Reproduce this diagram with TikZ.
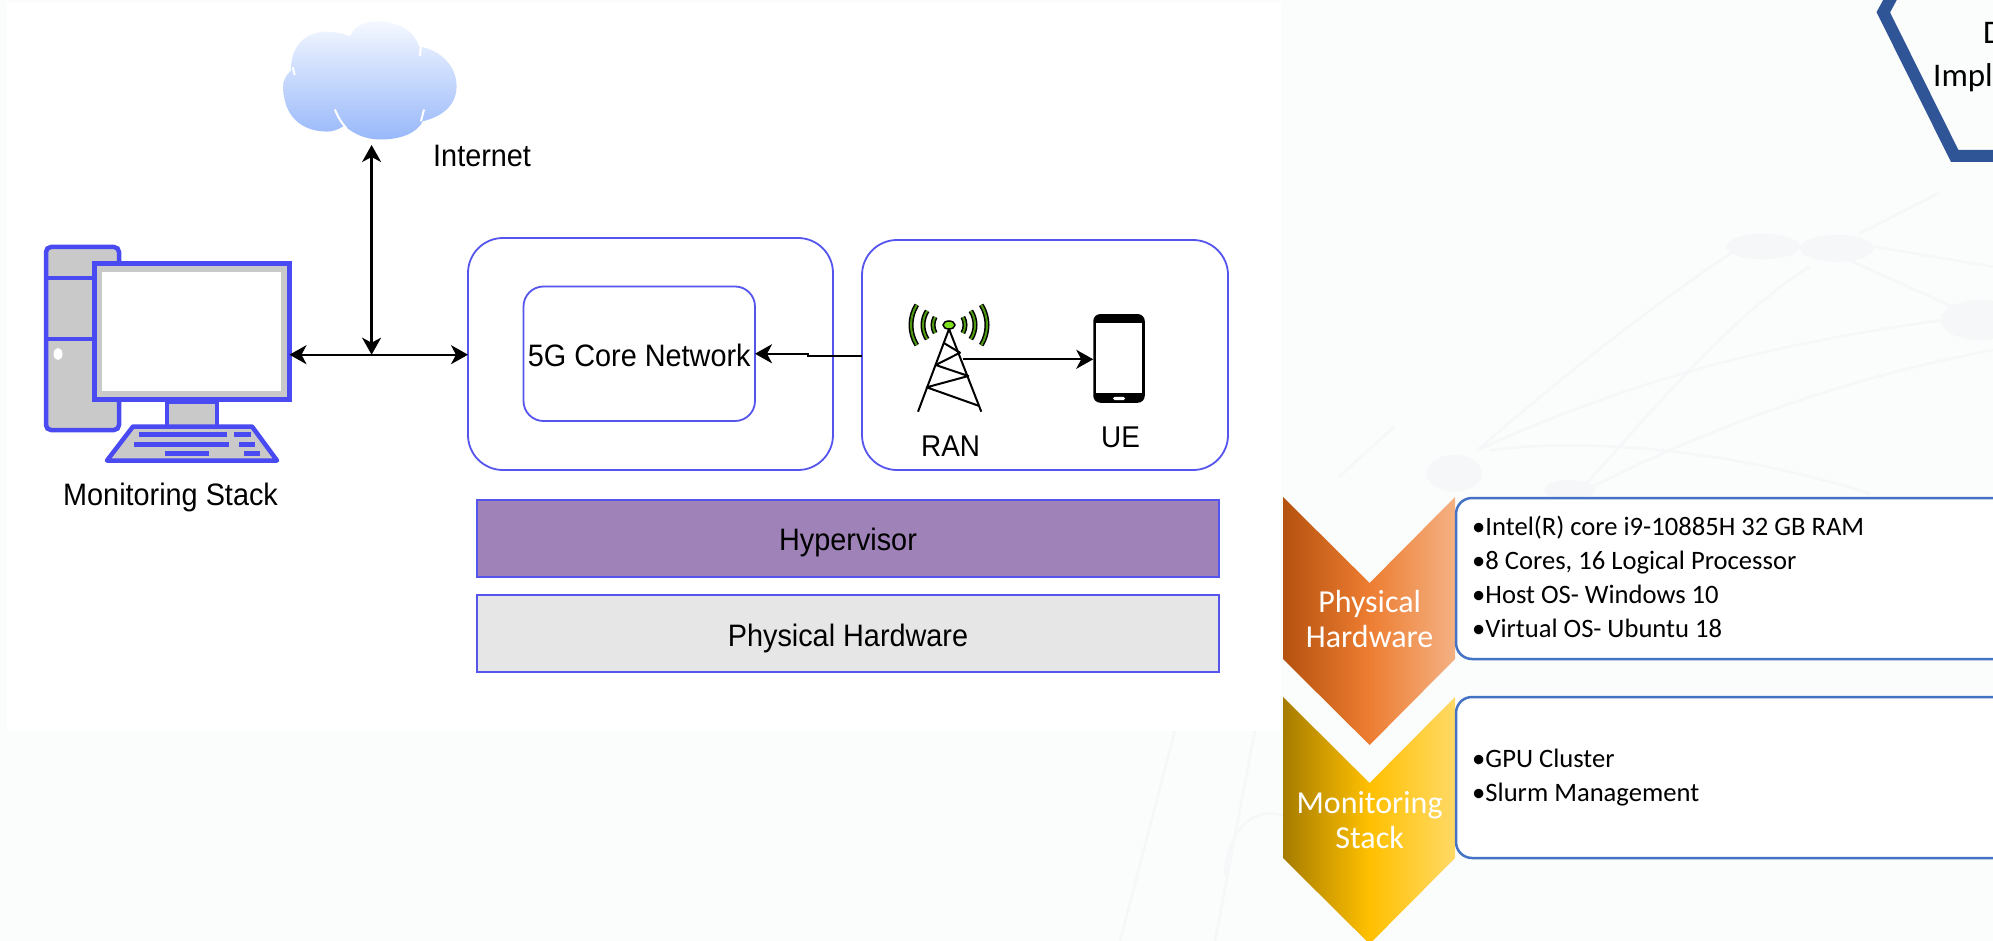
\documentclass[tikz,border=0pt]{standalone}
\usepackage{fontspec}
\setmainfont[FakeStretch=0.93]{Liberation Sans}
\newfontfamily\calib{Carlito}
\usetikzlibrary{arrows.meta}
\definecolor{bgtint}{HTML}{FBFCFC}
\definecolor{netline}{HTML}{F5F7F8}
\definecolor{stackblue}{HTML}{4A4AF2}
\definecolor{boxblue}{HTML}{5555EE}
\definecolor{pcgray}{HTML}{C9C9C9}
\definecolor{hyperfill}{HTML}{9E82B8}
\definecolor{hwfill}{HTML}{E6E6E6}
\definecolor{panelblue}{HTML}{4472C4}
\definecolor{hexblue}{HTML}{2F5597}
\definecolor{cloudtop}{HTML}{F4F8FF}
\definecolor{cloudbot}{HTML}{98B8FA}
\definecolor{wavegreen}{HTML}{4E9A10}
\definecolor{antgreen}{HTML}{80E020}
\definecolor{chevAl}{HTML}{B5520F}
\definecolor{chevAm}{HTML}{ED7D31}
\definecolor{chevAr}{HTML}{F4B183}
\definecolor{chevBl}{HTML}{A67C00}
\definecolor{chevBm}{HTML}{FFC000}
\definecolor{chevBr}{HTML}{FFD966}
\newcommand{\fs}[1]{\fontsize{#1}{#1}\selectfont}
\tikzset{
  x=1pt,y=-1pt,
  roundbox/.style={draw=boxblue,line width=1.8pt,rounded corners=#1,inner sep=0pt,outer sep=0pt},
  layerbox/.style={draw=boxblue,line width=1.6pt,inner sep=0pt,outer sep=0pt,minimum width=742pt,minimum height=77pt,font=\fs{31}},
  sanslabel/.style={anchor=base west,inner sep=0pt,font=\fs{31}},
  conn/.style={draw=black,line width=2.3pt},
  biarrow/.style={conn,{Stealth[length=17pt,width=19pt,inset=5pt]}-{Stealth[length=17pt,width=19pt,inset=5pt]}},
  oneway/.style={conn,-{Stealth[length=17pt,width=19pt,inset=5pt]}},
  pcline/.style={draw=stackblue,line width=4.5pt,fill=pcgray},
  kbar/.style={fill=stackblue},
  wave/.style={draw=black,line width=5pt},
  wavein/.style={draw=wavegreen,line width=2pt},
  tower/.style={draw=black,line width=2pt},
  infobox/.style={draw=panelblue,line width=2.5pt,fill=white,rounded corners=16pt},
  bullets/.style={anchor=base west,inner sep=0pt,font=\calib\fs{26.6}},
  chevlabel/.style={anchor=base,inner sep=0pt,text=white,font=\calib\fs{32}},
  netl/.style={draw=netline,line width=2.5pt,line cap=round},
}
\begin{document}
\begin{tikzpicture}
\useasboundingbox (0,0) rectangle (1993,941);
\clip (0,0) rectangle (1993,941);
\fill[bgtint] (0,0) rectangle (1993,941);
% faint network backdrop
\begin{scope}[shift={(1270,0)},x=0.461pt,y=-0.3333pt]
  \draw[netl] (150,1430) -- (270,1280);
  \draw[netl] (450,1350) .. controls (700,1050) and (900,850) .. (1000,760);
  \draw[netl] (680,1460) .. controls (850,1200) and (1000,950) .. (1170,800);
  \draw[netl] (700,1460) .. controls (1000,1250) and (1300,1120) .. (1568,1050);
  \draw[netl] (480,1350) .. controls (650,1320) and (950,1330) .. (1300,1480);
  \draw[netl] (1240,770) -- (1480,920);
  \draw[netl] (450,1350) .. controls (800,1130) and (1100,1030) .. (1460,960);
  \draw[netl] (1310,740) -- (1568,800);
  \draw[netl] (1280,700) -- (1450,580);
  \fill[netline] (1070,740) ellipse (80 and 38);
  \fill[netline] (1230,745) ellipse (80 and 40);
  \fill[netline] (1540,960) ellipse (85 and 60);
  \fill[netline] (400,1420) ellipse (60 and 55);
  \fill[netline] (650,1470) ellipse (55 and 30);
\end{scope}
\draw[netl] (1175,730) -- (1120,941);
\draw[netl] (1255,730) -- (1215,941);
\draw[netl] (1225,875) .. controls (1230,800) and (1290,800) .. (1310,840);
% white panel
\fill[white] (7,3) rectangle (1281,731);
% cloud
\begin{scope}[x=0.3827pt,y=-0.3444pt]
  \shade[top color=cloudtop,bottom color=cloudbot]
    (760,205) .. controls (760,130) and (800,92) .. (855,92)
    .. controls (880,92) and (900,100) .. (915,105)
    .. controls (925,75) and (955,62) .. (985,62)
    .. controls (1045,62) and (1085,95) .. (1095,135)
    .. controls (1150,145) and (1193,190) .. (1193,250)
    .. controls (1193,310) and (1150,340) .. (1105,352)
    .. controls (1090,385) and (1050,405) .. (995,405)
    .. controls (950,405) and (920,385) .. (900,365)
    .. controls (880,378) and (870,382) .. (855,382)
    .. controls (790,382) and (740,340) .. (740,250)
    .. controls (740,230) and (750,215) .. (760,205) -- cycle;
  \draw[white,line width=2pt] (765,195) -- (770,218);
  \draw[white,line width=2pt] (905,100) -- (918,97);
  \draw[white,line width=2pt] (1100,135) -- (1097,162);
  \draw[white,line width=2pt] (1108,318) -- (1100,352);
  \draw[white,line width=2pt] (875,318) .. controls (885,345) and (895,360) .. (905,372);
\end{scope}
\node[sanslabel] (internetlabel) at (433,167) {Internet};
% computer
\draw[pcline,rounded corners=5pt] (46,247) rectangle (119,430);
\draw[pcline] (46,278) -- (119,278);
\draw[pcline] (46,339) -- (119,339);
\fill[white] (58,354) ellipse (4.5 and 6);
\draw[pcline] (167,402) rectangle (217,428);
\draw[pcline,line join=round] (133,426.5) -- (252,426.5) -- (277,460.5) -- (107,460.5) -- cycle;
\fill[kbar] (138.5,432) rectangle (226.5,437);
\fill[kbar] (234,432) rectangle (251,437);
\fill[kbar] (134,441.5) rectangle (228.5,446.5);
\fill[kbar] (239,441.5) rectangle (255,446.5);
\fill[kbar] (165,450.5) rectangle (209,455.5);
\fill[kbar] (244,450.5) rectangle (260,455.5);
\node[pcline,inner sep=0pt,outer sep=0pt,minimum width=195pt,minimum height=136pt] (monitor) at (192,331.5) {};
\fill[white] (102,272) rectangle (280.5,391);
\node[sanslabel] (stacklabel) at (63,505.5) {Monitoring Stack};
% containers
\node[roundbox=35pt,minimum width=365pt,minimum height=232pt] (corebox) at (650.5,354) {};
\node[roundbox=20pt,minimum width=231.5pt,minimum height=134.5pt,font=\fs{31},text height=32pt,text depth=6pt] (core) at (639.25,353.75) {5G Core Network};
\node[roundbox=35pt,minimum width=366pt,minimum height=230pt] (ranbox) at (1045,355) {};
\node[layerbox,fill=hyperfill,text height=29pt,text depth=6pt] (hyper) at (848,538.5) {Hypervisor};
\node[layerbox,fill=hwfill,text height=32pt,text depth=6pt] (hw) at (848,633.5) {Physical Hardware};
% connectors
\coordinate (junction) at (371.6,354.7);
\coordinate (cloudtip) at (371.6,145);
\draw[biarrow] (junction -| monitor.east) -- (junction -| corebox.west);
\draw[biarrow] (junction) -- (cloudtip);
\coordinate (bend) at (808,356);
\draw[oneway] (bend -| ranbox.west) -- (bend) -- (bend |- core.east) -- (core.east);
% RAN tower
\foreach \r/\a in {16/30,26/33,38/32}{
  \draw[wave] ([shift={(180-\a:\r)}]949,325) arc (180-\a:180+\a:\r);
  \draw[wave] ([shift={(-\a:\r)}]949,325) arc (-\a:\a:\r);
  \draw[wavein] ([shift={(180-\a:\r)}]949,325) arc (180-\a:180+\a:\r);
  \draw[wavein] ([shift={(-\a:\r)}]949,325) arc (-\a:\a:\r);
}
\draw[tower,line join=round] (918,411.7) -- (949,329) -- (981.3,411.7);
\draw[tower,line join=round] (943.3,342.7) -- (960,352.7) -- (935.7,365) -- (968.3,376) -- (926.7,387.3) -- (979.3,406);
\filldraw[draw=black,line width=1.5pt,fill=antgreen] (949,325) ellipse (6 and 4);
\node[sanslabel,font=\fs{30}] (ranlabel) at (921,456.5) {RAN};
% UE
\node[fill=black,rounded corners=7pt,inner sep=0pt,outer sep=0pt,minimum width=51.5pt,minimum height=88.7pt] (uephone) at (1119,358.4) {};
\fill[white] (1096,322.7) rectangle (1142,395.3);
\fill[black] (1096,393) rectangle (1142,396);
\fill[white,rounded corners=1.5pt] (1113,396.8) rectangle (1125,400);
\coordinate (ranstart) at (963,359.3);
\draw[oneway] (ranstart) -- (ranstart -| uephone.west);
\node[sanslabel,font=\fs{30}] (uelabel) at (1101,447.3) {UE};
% hexagon fragment
\draw[hexblue,line width=12pt,miter limit=10] (1905,-28) -- (1883.3,12.3) -- (1954.7,156) -- (2010,156);
\node[anchor=base west,inner sep=0pt,font=\calib\fs{33}] (hexa) at (1983,44) {D};
\node[anchor=base west,inner sep=0pt,font=\calib\fs{33}] (hexb) at (1933,87) {Impl};
% chevrons
\shade[left color=chevAl,right color=chevAr,middle color=chevAm]
  (1283,497) -- (1369.6,583) -- (1455,497) -- (1455,659) -- (1369.6,745) -- (1283,659) -- cycle;
\shade[left color=chevBl,right color=chevBr,middle color=chevBm]
  (1283,697) -- (1369.6,783) -- (1455,697) -- (1455,858) -- (1369.6,944) -- (1283,858) -- cycle;
\node[chevlabel] (chev1a) at (1369.6,612) {Physical};
\node[chevlabel] (chev1b) at (1369.6,647) {Hardware};
\node[chevlabel] (chev2a) at (1369.6,813) {Monitoring};
\node[chevlabel] (chev2b) at (1369.6,848) {Stack};
% info panels
\draw[infobox] (1456,498) rectangle (2010,659);
\draw[infobox] (1456,697) rectangle (2010,858);
\node[bullets] (l1) at (1472,535) {•Intel(R) core i9-10885H 32 GB RAM};
\node[bullets] (l2) at (1472,569) {•8 Cores, 16 Logical Processor};
\node[bullets] (l3) at (1472,603) {•Host OS- Windows 10};
\node[bullets] (l4) at (1472,637) {•Virtual OS- Ubuntu 18};
\node[bullets] (l5) at (1472,767) {•GPU Cluster};
\node[bullets] (l6) at (1472,801) {•Slurm Management};
\end{tikzpicture}
\end{document}
